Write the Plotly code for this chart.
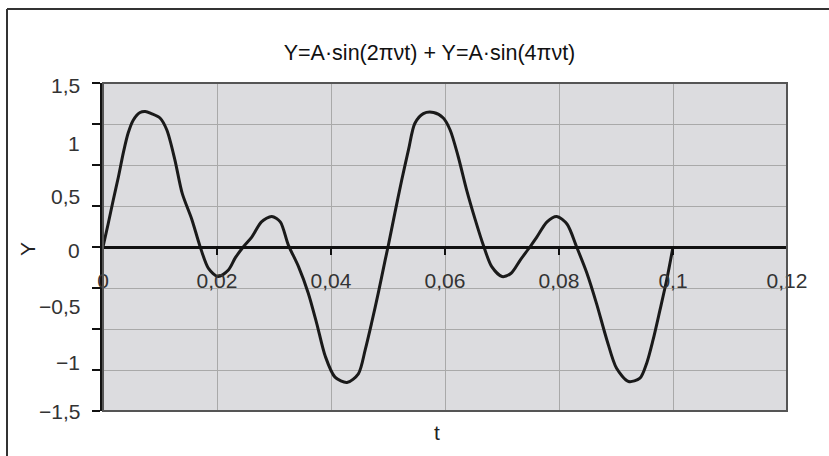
import plotly.graph_objects as go

# ---- data ----
t_values = [0, 0.0009, 0.0018, 0.0027, 0.0036, 0.0044, 0.0053, 0.0065, 0.0074, 0.0085,
            0.0100, 0.0112, 0.0126, 0.0139, 0.0156, 0.0170, 0.0185, 0.0202, 0.0220, 0.0232,
            0.0246, 0.0261, 0.0278, 0.0296, 0.0311, 0.0325, 0.0343, 0.0360, 0.0375, 0.0390,
            0.0407, 0.0428, 0.0448, 0.0460, 0.0471, 0.0483, 0.0495, 0.0500, 0.0512, 0.0524,
            0.0536, 0.0547, 0.0562, 0.0580, 0.0597, 0.0609, 0.0623, 0.0638, 0.0653, 0.0667,
            0.0682, 0.0700, 0.0716, 0.0732, 0.0749, 0.0761, 0.0779, 0.0796, 0.0814, 0.0831,
            0.0849, 0.0866, 0.0884, 0.0901, 0.0922, 0.0942, 0.0954, 0.0965, 0.0977, 0.0989,
            0.1000]
y_values = [0.00, 0.21, 0.43, 0.64, 0.87, 1.04, 1.16, 1.23, 1.24, 1.22,
            1.18, 1.07, 0.80, 0.49, 0.25, 0.01, -0.195, -0.27, -0.21, -0.10,
            0.00, 0.09, 0.23, 0.28, 0.23, 0.02, -0.18, -0.42, -0.70, -1.00,
            -1.19, -1.24, -1.16, -0.94, -0.70, -0.42, -0.12, 0.00, 0.31, 0.61,
            0.89, 1.13, 1.22, 1.23, 1.18, 1.07, 0.83, 0.52, 0.25, 0.02,
            -0.18, -0.27, -0.24, -0.12, 0.00, 0.09, 0.23, 0.28, 0.21, 0.00,
            -0.24, -0.52, -0.85, -1.11, -1.23, -1.20, -1.06, -0.85, -0.58, -0.30,
            0.00]

x_tick_vals = [0, 0.02, 0.04, 0.06, 0.08, 0.1, 0.12]
x_tick_text = ["0", "0,02", "0,04", "0,06", "0,08", "0,1", "0,12"]
y_grid_vals = [-1.5, -1.125, -0.75, -0.375, 0, 0.375, 0.75, 1.125, 1.5]
# label positions as they appear in the picture (offset from grid lines)
y_label_pos = [1.48, 0.95, 0.46, -0.03, -0.54, -1.06, -1.50]
y_label_text = ["1,5", "1", "0,5", "0", "\u22120,5", "\u22121", "\u22121,5"]

title_text = "Y=A\u00b7sin(2\u03c0\u03bdt) + Y=A\u00b7sin(4\u03c0\u03bdt)"

FONT = "Liberation Sans, Arial, sans-serif"
FS = 21
W, H = 829, 456
L, R, T, B = 103, 42, 83, 45
PW, PH = W - L - R, H - T - B


def px_x(p):
    return (p - L) / PW


def px_y(p):
    return (H - B - p) / PH


fig = go.Figure()
fig.add_trace(go.Scatter(
    x=t_values, y=y_values, mode="lines",
    line=dict(color="#1a1a1a", width=3, shape="spline", smoothing=0.8),
    showlegend=False, hoverinfo="skip"))

fig.update_layout(
    width=W, height=H,
    margin=dict(l=L, r=R, t=T, b=B),
    paper_bgcolor="white",
    plot_bgcolor="#dcdcdf",
    font=dict(family=FONT, size=FS, color="#222"),
    showlegend=False,
    title=dict(text=title_text, font=dict(family=FONT, size=21.5, color="#111"),
               xref="paper", x=px_x(429.5), xanchor="center",
               yref="container", y=1 - 52 / H, yanchor="middle"),
    xaxis=dict(range=[0, 0.12], tickvals=x_tick_vals, ticktext=x_tick_text,
               showgrid=True, gridcolor="#a9a9a9", gridwidth=1,
               anchor="free", position=0.5,
               showline=True, linecolor="#111", linewidth=3,
               ticks="outside", ticklen=6, tickwidth=2, tickcolor="#111",
               ticklabelstandoff=8,
               zeroline=False, tickfont=dict(size=FS, color="#333")),
    yaxis=dict(range=[-1.5, 1.5], tickvals=y_grid_vals, showticklabels=False,
               showgrid=True, gridcolor="#a9a9a9", gridwidth=1,
               showline=True, linecolor="#111", linewidth=3,
               ticks="outside", ticklen=8, tickwidth=2, tickcolor="#111",
               zeroline=False),
)

# plot-area border
fig.add_shape(type="rect", xref="paper", yref="paper", x0=0, y0=0, x1=1, y1=1,
              line=dict(color="#555", width=2), layer="above")
# outer chart frame (left and top edges visible)
fx, fy = px_x(7), px_y(9)
fig.add_shape(type="line", xref="paper", yref="paper", x0=fx, y0=px_y(470), x1=fx, y1=fy,
              line=dict(color="#333", width=2))
fig.add_shape(type="line", xref="paper", yref="paper", x0=fx, y0=fy, x1=px_x(840), y1=fy,
              line=dict(color="#333", width=2))

# y tick labels
for v, txt in zip(y_label_pos, y_label_text):
    fig.add_annotation(x=px_x(82), xref="paper", y=v, yref="y", text=txt,
                       showarrow=False, xanchor="right", yanchor="middle",
                       font=dict(size=FS, color="#333"))

# axis titles
fig.add_annotation(x=px_x(27), y=px_y(249), xref="paper", yref="paper", text="Y",
                   showarrow=False, textangle=-90, xanchor="center", yanchor="middle",
                   font=dict(size=FS, color="#222"))
fig.add_annotation(x=px_x(437), y=px_y(432), xref="paper", yref="paper", text="t",
                   showarrow=False, xanchor="center", yanchor="middle",
                   font=dict(size=FS, color="#222"))

fig.write_html("out.html", config={"displayModeBar": False},
               post_script="document.body.style.margin='0';document.body.style.overflow='hidden';")
